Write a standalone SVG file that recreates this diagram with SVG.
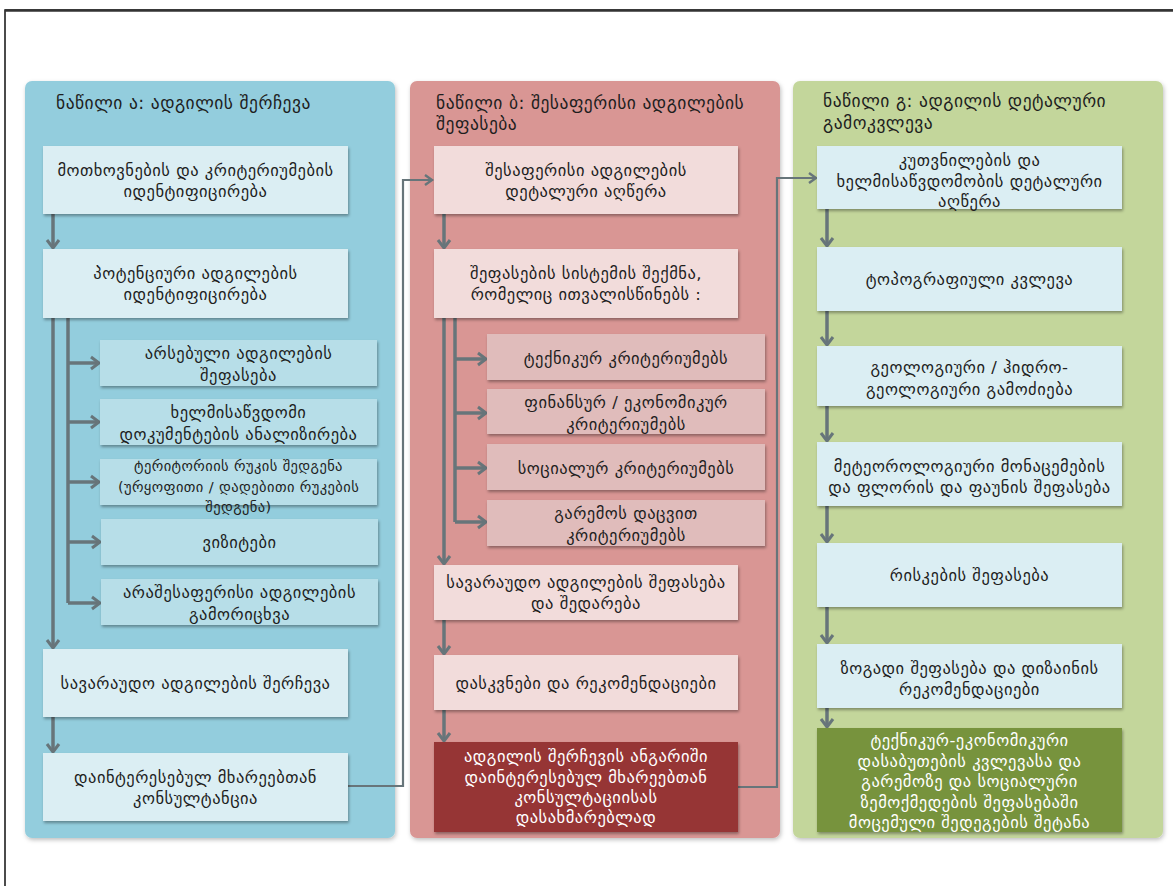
<svg xmlns="http://www.w3.org/2000/svg" width="1173" height="886" viewBox="0 0 1173 886">
<defs>
<style>
.t{font-family:"DejaVu Sans","Noto Sans",sans-serif;font-size:16.5px;letter-spacing:0.5px;fill:#1e1e1e;text-anchor:middle}
.ts{font-size:14.5px;letter-spacing:0.4px}
.w{fill:#ffffff}
.h{font-family:"DejaVu Sans","Noto Sans",sans-serif;font-size:17.5px;letter-spacing:0.5px;fill:#1e1e1e}
.ln{fill:none;stroke:#67757A;stroke-width:3.5}
.lc{fill:none;stroke:#67757A;stroke-width:2.2}
.bA{fill:#DBEEF3}
.sA{fill:#B7DEE8}
.bB{fill:#F2DCDB}
.sB{fill:#E0BCBB}
</style>
<filter id="sh" x="-10%" y="-10%" width="120%" height="130%">
<feDropShadow dx="1" dy="2" stdDeviation="1.5" flood-color="#000" flood-opacity="0.35"/>
</filter>
<filter id="psh" x="-5%" y="-5%" width="110%" height="110%">
<feDropShadow dx="1" dy="2" stdDeviation="2" flood-color="#000" flood-opacity="0.25"/>
</filter>
<marker id="ar" markerUnits="userSpaceOnUse" markerWidth="16" markerHeight="16" refX="11" refY="8" orient="auto">
<path d="M3,2 L11,8 L3,14" fill="none" stroke="#67757A" stroke-width="3"/>
</marker>
<marker id="arc" markerUnits="userSpaceOnUse" markerWidth="16" markerHeight="16" refX="11" refY="8" orient="auto">
<path d="M4,3 L11,8 L4,13" fill="none" stroke="#67757A" stroke-width="2.4"/>
</marker>
</defs>
<rect width="1173" height="886" fill="#ffffff"/>
<path d="M5,886 V10 H1173" fill="none" stroke="#111" stroke-width="1.5"/>
<line x1="5" y1="10.5" x2="1173" y2="10.5" stroke="#333" stroke-width="2.5"/>

<g id="panelA">
<rect x="25" y="81" width="370" height="757" rx="7" fill="#93CDDD" filter="url(#psh)"/>
<text class="h" x="56" y="109">ნაწილი ა: ადგილის შერჩევა</text>
</g>
<g id="panelB">
<rect x="410" y="81" width="370" height="757" rx="7" fill="#D99694" filter="url(#psh)"/>
<text class="h" x="436" y="109">ნაწილი ბ: შესაფერისი ადგილების</text>
<text class="h" x="436" y="130">შეფასება</text>
</g>
<g id="panelC">
<rect x="793" y="81" width="370" height="757" rx="7" fill="#C3D69B" filter="url(#psh)"/>
<text class="h" x="823" y="107">ნაწილი გ: ადგილის დეტალური</text>
<text class="h" x="823" y="129">გამოკვლევა</text>
</g>

<g id="connectors">
<line class="ln" x1="53" y1="214" x2="53" y2="248" marker-end="url(#ar)"/>
<line class="ln" x1="53" y1="318" x2="53" y2="648" marker-end="url(#ar)"/>
<path class="ln" d="M68,318 V603"/>
<line class="ln" x1="68" y1="363" x2="99" y2="363" marker-end="url(#ar)"/>
<line class="ln" x1="68" y1="422" x2="99" y2="422" marker-end="url(#ar)"/>
<line class="ln" x1="68" y1="482" x2="99" y2="482" marker-end="url(#ar)"/>
<line class="ln" x1="68" y1="542" x2="100" y2="542" marker-end="url(#ar)"/>
<line class="ln" x1="68" y1="603" x2="100" y2="603" marker-end="url(#ar)"/>
<line class="ln" x1="53" y1="717" x2="53" y2="752" marker-end="url(#ar)"/>
<path class="lc" d="M348,786 H403 V180 H432" marker-end="url(#arc)"/>

<line class="ln" x1="444" y1="214" x2="444" y2="248" marker-end="url(#ar)"/>
<line class="ln" x1="444" y1="318" x2="444" y2="564" marker-end="url(#ar)"/>
<path class="ln" d="M455,318 V522"/>
<line class="ln" x1="455" y1="359" x2="486" y2="359" marker-end="url(#ar)"/>
<line class="ln" x1="455" y1="413" x2="486" y2="413" marker-end="url(#ar)"/>
<line class="ln" x1="455" y1="468" x2="486" y2="468" marker-end="url(#ar)"/>
<line class="ln" x1="455" y1="522" x2="486" y2="522" marker-end="url(#ar)"/>
<line class="ln" x1="444" y1="620" x2="444" y2="654" marker-end="url(#ar)"/>
<line class="ln" x1="444" y1="710" x2="444" y2="741" marker-end="url(#ar)"/>
<path class="lc" d="M738,787 H777 V178 H816" marker-end="url(#arc)"/>

<line class="ln" x1="827" y1="209" x2="827" y2="246" marker-end="url(#ar)"/>
<line class="ln" x1="827" y1="311" x2="827" y2="345" marker-end="url(#ar)"/>
<line class="ln" x1="827" y1="406" x2="827" y2="441" marker-end="url(#ar)"/>
<line class="ln" x1="827" y1="506" x2="827" y2="542" marker-end="url(#ar)"/>
<line class="ln" x1="827" y1="607" x2="827" y2="643" marker-end="url(#ar)"/>
<line class="ln" x1="827" y1="708" x2="827" y2="727" marker-end="url(#ar)"/>
</g>

<g id="a1"><rect class="bA" x="43" y="146" width="305" height="68" filter="url(#sh)"/>
<text class="t" x="195.5" y="176">მოთხოვნების და კრიტერიუმების</text>
<text class="t" x="195.5" y="197">იდენტიფიცირება</text></g>
<g id="a2"><rect class="bA" x="43" y="249" width="305" height="69" filter="url(#sh)"/>
<text class="t" x="195.5" y="279">პოტენციური ადგილების</text>
<text class="t" x="195.5" y="300">იდენტიფიცირება</text></g>
<g id="a2a"><rect class="sA" x="100" y="340" width="277" height="46" filter="url(#sh)"/>
<text class="t" x="238.5" y="359">არსებული ადგილების</text>
<text class="t" x="238.5" y="381">შეფასება</text></g>
<g id="a2b"><rect class="sA" x="100" y="399" width="277" height="46" filter="url(#sh)"/>
<text class="t" x="238.5" y="418">ხელმისაწვდომი</text>
<text class="t" x="238.5" y="440">დოკუმენტების ანალიზირება</text></g>
<g id="a2c"><rect class="sA" x="100" y="459" width="277" height="46" filter="url(#sh)"/>
<text class="t ts" x="238.5" y="471">ტერიტორიის რუკის შედგენა</text>
<text class="t ts" x="238.5" y="492">(ურყოფითი / დადებითი რუკების</text>
<text class="t ts" x="238.5" y="512">შედგენა)</text></g>
<g id="a2d"><rect class="sA" x="101" y="519" width="277" height="46" filter="url(#sh)"/>
<text class="t" x="239.5" y="548">ვიზიტები</text></g>
<g id="a2e"><rect class="sA" x="101" y="579" width="277" height="46" filter="url(#sh)"/>
<text class="t" x="239.5" y="598">არაშესაფერისი ადგილების</text>
<text class="t" x="239.5" y="620">გამორიცხვა</text></g>
<g id="a3"><rect class="bA" x="43" y="649" width="305" height="68" filter="url(#sh)"/>
<text class="t" x="195.5" y="689">სავარაუდო ადგილების შერჩევა</text></g>
<g id="a4"><rect class="bA" x="43" y="753" width="305" height="68" filter="url(#sh)"/>
<text class="t" x="195.5" y="783">დაინტერესებულ მხარეებთან</text>
<text class="t" x="195.5" y="804">კონსულტანცია</text></g>

<g id="b1"><rect class="bB" x="434" y="146" width="304" height="68" filter="url(#sh)"/>
<text class="t" x="586" y="176">შესაფერისი ადგილების</text>
<text class="t" x="586" y="197">დეტალური აღწერა</text></g>
<g id="b2"><rect class="bB" x="434" y="249" width="304" height="69" filter="url(#sh)"/>
<text class="t" x="586" y="279">შეფასების სისტემის შექმნა,</text>
<text class="t" x="586" y="300">რომელიც ითვალისწინებს :</text></g>
<g id="b2a"><rect class="sB" x="487" y="334" width="278" height="46" filter="url(#sh)"/>
<text class="t" x="626" y="364">ტექნიკურ კრიტერიუმებს</text></g>
<g id="b2b"><rect class="sB" x="487" y="389" width="278" height="45" filter="url(#sh)"/>
<text class="t" x="626" y="408">ფინანსურ / ეკონომიკურ</text>
<text class="t" x="626" y="430">კრიტერიუმებს</text></g>
<g id="b2c"><rect class="sB" x="487" y="444" width="278" height="46" filter="url(#sh)"/>
<text class="t" x="626" y="474">სოციალურ კრიტერიუმებს</text></g>
<g id="b2d"><rect class="sB" x="487" y="500" width="278" height="46" filter="url(#sh)"/>
<text class="t" x="626" y="519">გარემოს დაცვით</text>
<text class="t" x="626" y="541">კრიტერიუმებს</text></g>
<g id="b3"><rect class="bB" x="434" y="565" width="304" height="55" filter="url(#sh)"/>
<text class="t" x="586" y="588">სავარაუდო ადგილების შეფასება</text>
<text class="t" x="586" y="609">და შედარება</text></g>
<g id="b4"><rect class="bB" x="434" y="655" width="304" height="55" filter="url(#sh)"/>
<text class="t" x="586" y="689">დასკვნები და რეკომენდაციები</text></g>
<g id="b5"><rect x="434" y="742" width="304" height="90" fill="#963634" filter="url(#sh)"/>
<text class="t w" x="586" y="762">ადგილის შერჩევის ანგარიში</text>
<text class="t w" x="586" y="783">დაინტერესებულ მხარეებთან</text>
<text class="t w" x="586" y="803">კონსულტაციისას</text>
<text class="t w" x="586" y="823">დასახმარებლად</text></g>

<g id="c1"><rect class="bA" x="817" y="146" width="305" height="63" filter="url(#sh)"/>
<text class="t" x="969.5" y="166">კუთვნილების და</text>
<text class="t" x="969.5" y="187">ხელმისაწვდომობის დეტალური</text>
<text class="t" x="969.5" y="207">აღწერა</text></g>
<g id="c2"><rect class="bA" x="817" y="247" width="305" height="64" filter="url(#sh)"/>
<text class="t" x="969.5" y="285">ტოპოგრაფიული კვლევა</text></g>
<g id="c3"><rect class="bA" x="817" y="346" width="305" height="60" filter="url(#sh)"/>
<text class="t" x="969.5" y="373">გეოლოგიური / ჰიდრო-</text>
<text class="t" x="969.5" y="395">გეოლოგიური გამოძიება</text></g>
<g id="c4"><rect class="bA" x="817" y="442" width="305" height="64" filter="url(#sh)"/>
<text class="t" x="969.5" y="472">მეტეოროლოგიური მონაცემების</text>
<text class="t" x="969.5" y="493">და ფლორის და ფაუნის შეფასება</text></g>
<g id="c5"><rect class="bA" x="817" y="543" width="305" height="64" filter="url(#sh)"/>
<text class="t" x="969.5" y="581">რისკების შეფასება</text></g>
<g id="c6"><rect class="bA" x="817" y="644" width="305" height="64" filter="url(#sh)"/>
<text class="t" x="969.5" y="674">ზოგადი შეფასება და დიზაინის</text>
<text class="t" x="969.5" y="695">რეკომენდაციები</text></g>
<g id="c7"><rect x="817" y="728" width="305" height="104" fill="#77933C" filter="url(#sh)"/>
<text class="t w" x="969.5" y="746">ტექნიკურ-ეკონომიკური</text>
<text class="t w" x="969.5" y="767">დასაბუთების კვლევასა და</text>
<text class="t w" x="969.5" y="787">გარემოზე და სოციალური</text>
<text class="t w" x="969.5" y="808">ზემოქმედების შეფასებაში</text>
<text class="t w" x="969.5" y="828">მოცემული შედეგების შეტანა</text></g>
</svg>
